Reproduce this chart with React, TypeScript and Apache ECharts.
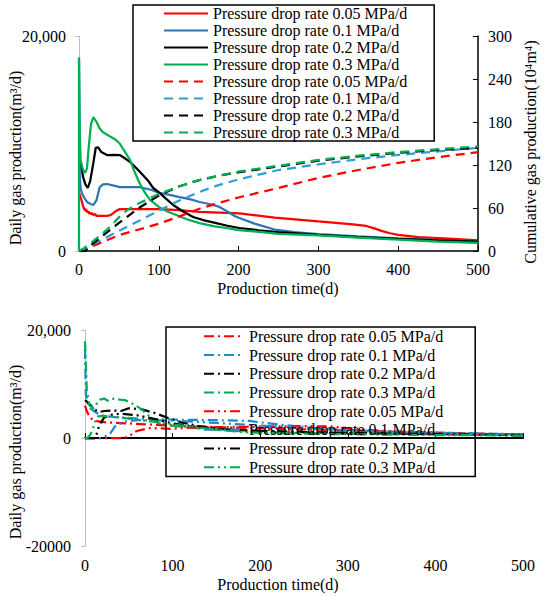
import React, { useEffect, useRef } from "react";
import * as echarts from "echarts";

const FONT = "Liberation Serif";

// ---------- categories / names ----------
const rates = ["0.05", "0.1", "0.2", "0.3"];
const seriesNames = rates.map((r) => `Pressure drop rate ${r} MPa/d`);

// ---------- tick labels ----------
const topLeftTicks: Record<string, string> = { "0": "0", "20000": "20,000" };
const bottomLeftTicks: Record<string, string> = { "-20000": "-20000", "0": "0", "20000": "20,000" };

// ---------- top chart: daily gas production (m3/d) ----------
const dailyRed = [[0,5400],[2,5000],[4,4500],[5,4200],[6,4000],[7,3800],[8,3950],[9,3650],[10,3800],[11,3550],[12,3700],[13,3450],[14,3600],[15,3400],[16,3550],[18,3350],[20,3450],[22,3260],[28,3270],[35,3260],[40,3350],[43,3530],[47,3750],[51,3900],[75,3900],[101,3900],[125,3800],[151,3650],[176,3580],[201,3500],[245,3100],[300,2750],[340,2500],[360,2330],[370,2100],[380,1850],[390,1650],[400,1500],[425,1300],[450,1200],[475,1100],[500,1000]];
const dailyBlue = [[0,18000],[1,7000],[2,5800],[4,5300],[7,4900],[10,4560],[14,4400],[18,4280],[22,4740],[26,5950],[30,6200],[35,6230],[45,6050],[51,5950],[65,5950],[76,5950],[90,5700],[101,5400],[115,5200],[126,5020],[140,4800],[151,4560],[165,4350],[176,4100],[183,3800],[189,3530],[195,3250],[201,3070],[220,2550],[245,2000],[270,1750],[300,1580],[350,1350],[400,1170],[450,1020],[500,900]];
const dailyBlack = [[0,8500],[3,8000],[5,6900],[8,6200],[11,5860],[14,6500],[18,8200],[21,9600],[24,9650],[28,9200],[35,8930],[45,8950],[51,8930],[58,8600],[64,8280],[72,7700],[80,7070],[87,6500],[93,5860],[101,5400],[110,4800],[118,4280],[130,3700],[143,3160],[157,2850],[172,2600],[186,2350],[201,2140],[225,1930],[250,1750],[300,1500],[350,1300],[400,1130],[450,1000],[500,880]];
const dailyGreen = [[0,0],[0,17900],[1,11000],[2,8500],[4,7800],[6,7400],[8,7300],[10,7700],[12,9500],[15,11800],[18,12450],[22,12000],[26,11400],[30,11050],[38,10700],[45,10400],[51,10000],[57,9300],[64,8450],[70,7300],[76,6300],[82,5500],[89,4750],[100,4100],[110,3700],[122,3350],[135,2950],[151,2600],[170,2300],[185,2140],[200,1950],[250,1600],[300,1450],[350,1250],[400,1050],[450,880],[500,760]];

// ---------- top chart: cumulative gas production (10^4 m3) ----------
const cumRed = [[0,0],[10,3],[26,11],[50,22],[75,30],[100,38],[125,48],[151,59],[175,67],[201,75],[250,88],[300,102],[350,113],[400,123],[450,131],[500,138]];
const cumBlue = [[0,0],[8,3],[22,12],[50,28],[75,42],[100,56],[125,70],[150,82],[175,92],[200,100],[250,113],[300,121],[350,128],[400,134],[450,139],[500,144]];
const cumBlack = [[0,0],[8,0],[14,7],[25,17],[35,26],[51,40],[75,60],[101,78],[125,90],[151,99],[175,105],[201,110],[250,118],[300,126],[350,132],[400,137],[450,141],[500,144]];
const cumGreen = [[0,0],[5,3],[17,13],[28,23],[39,34],[50,47],[60,57],[76,67],[101,80],[125,90],[151,99],[175,105],[201,111],[250,119],[300,127],[350,133],[400,138],[450,142],[500,146]];

// ---------- bottom chart: daily gas production, dash-dot ----------
const ddRed = [[0,6000],[2,5000],[5,4000],[8,3500],[12,3200],[18,3000],[25,2900],[35,2800],[50,2700],[75,2500],[100,2300],[150,2000],[200,1800],[250,1600],[300,1400],[350,1200],[400,1000],[450,800],[500,600]];
const ddBlue = [[0,16500],[1,8000],[3,6500],[6,5500],[10,5000],[15,4500],[21,4100],[40,3800],[60,3600],[100,3400],[150,3300],[188,3150],[220,2500],[260,1900],[300,1500],[350,1200],[400,1000],[450,800],[500,700]];
const ddBlack = [[0,7000],[4,6500],[8,5800],[12,5200],[16,4800],[22,5000],[30,5100],[41,5000],[50,5500],[64,5350],[80,4600],[95,3700],[110,2900],[130,2200],[160,1600],[200,1300],[250,1100],[300,950],[400,750],[500,550]];
const ddGreen = [[0,17900],[2,9000],[5,6000],[10,5500],[14,6500],[17,7100],[22,7300],[26,6900],[30,7300],[40,7100],[46,7000],[55,6300],[64,5400],[73,4100],[83,2800],[95,2400],[103,2200],[130,1800],[160,1400],[200,1100],[250,900],[300,800],[400,650],[500,500]];

// ---------- bottom chart: daily gas production, dash-dot-dot ----------
const dddRed = [[0,0],[20,0],[45,0],[51,400],[59,1300],[74,1850],[97,1700],[120,1900],[150,2000],[200,2100],[250,2200],[280,2150],[320,1500],[360,1100],[400,800],[450,700],[500,700]];
const dddBlue = [[0,0],[5,0],[17,0],[22,200],[29,900],[35,2300],[45,3000],[60,3300],[100,3200],[150,2800],[200,2300],[250,1800],[300,1400],[350,1150],[400,950],[450,800],[500,650]];
const dddBlack = [[0,0],[12,0],[15,1700],[18,2800],[22,3800],[30,4300],[40,4500],[60,4200],[80,3500],[100,2700],[130,2000],[160,1600],[200,1300],[250,1050],[300,900],[400,700],[500,500]];
const dddGreen = [[0,0],[3,0],[6,600],[9,1700],[12,3200],[15,4000],[21,4100],[40,3800],[60,3400],[80,3000],[100,2500],[130,1900],[160,1400],[188,1000],[250,800],[300,700],[400,550],[500,450]];

const RED = "#FF0000";
const BLUE = "#2E75B6";
const LBLUE = "#2A9FDB";
const BBLUE = "#2288CC";
const BLACK = "#000000";
const GREEN = "#00B050";

const DASH = [9, 6];
const DASHDOT = [10, 4, 2, 4];
const DASHDOTDOT = [10, 4, 2, 4, 2, 4];

function mk(name: string, data: number[][], color: string, type: any, xi: number, yi: number) {
  return {
    type: "line",
    name,
    data,
    xAxisIndex: xi,
    yAxisIndex: yi,
    showSymbol: false,
    symbol: "none",
    silent: true,
    lineStyle: { color, width: 2.25, type },
    itemStyle: { color },
  };
}

export default function App() {
  const ref = useRef<HTMLDivElement>(null);
  useEffect(() => {
    document.body.style.margin = "0";
    const chart = echarts.init(ref.current!, null, { renderer: "svg" });
    const n = (i: number, tag: string) => seriesNames[i] + "#" + tag;
    const topNames = [0, 1, 2, 3].map((i) => n(i, "a")).concat([0, 1, 2, 3].map((i) => n(i, "b")));
    const botNames = [0, 1, 2, 3].map((i) => n(i, "c")).concat([0, 1, 2, 3].map((i) => n(i, "d")));
    const axisLabel = { color: "#000", fontSize: 16, fontFamily: FONT };
    const txt = (text: string, x: number, y: number, rot: number) => ({
      type: "text",
      x,
      y,
      rotation: rot,
      style: { text, fontSize: 16, fontFamily: FONT, fill: "#000", align: "center", verticalAlign: "middle" },
    });
    const legendCommon = {
      orient: "vertical",
      borderColor: "#000",
      borderWidth: 1.5,
      itemGap: 0,
      itemHeight: 14,
      formatter: (name: string) => name.replace(/#.*$/, ""),
      itemStyle: { opacity: 0 },
    };
    chart.setOption({
      animation: false,
      grid: [
        { left: 79, top: 36, width: 399, height: 215 },
        { left: 85, top: 330, width: 438, height: 216 },
      ],
      legend: [
        {
          ...legendCommon,
          data: topNames,
          left: 133,
          top: 5,
          padding: [0, 27, 0, 30],
          itemWidth: 44,
          textStyle: { fontSize: 16, lineHeight: 17, fontFamily: FONT, color: "#000" },
        },
        {
          ...legendCommon,
          data: botNames,
          left: 166,
          top: 327,
          padding: [0, 32, 0, 37],
          itemWidth: 40,
          textStyle: { fontSize: 16, lineHeight: 18.7, fontFamily: FONT, color: "#000" },
        },
      ],
      xAxis: [
        {
          type: "value",
          gridIndex: 0,
          min: 0,
          max: 500,
          interval: 100,
          splitLine: { show: false },
          axisLine: { show: true, lineStyle: { color: "#000", width: 1.5 } },
          axisTick: { show: true, inside: true, length: 5, lineStyle: { color: "#000" } },
          axisLabel: { ...axisLabel, margin: 10 },
        },
        {
          type: "value",
          gridIndex: 1,
          min: 0,
          max: 500,
          interval: 100,
          splitLine: { show: false },
          axisLine: { show: true, onZero: true, lineStyle: { color: "#000", width: 2 } },
          axisTick: { show: true, inside: true, length: 5, lineStyle: { color: "#000" } },
          axisLabel: { ...axisLabel, margin: 11 },
        },
      ],
      yAxis: [
        {
          type: "value",
          gridIndex: 0,
          min: 0,
          max: 20000,
          interval: 20000,
          splitLine: { show: false },
          axisLine: { show: true, onZero: false, lineStyle: { color: "#BFBFBF", width: 1 } },
          axisTick: { show: true, length: 4, lineStyle: { color: "#BFBFBF" } },
          axisLabel: { ...axisLabel, margin: 13, formatter: (v: number) => topLeftTicks[String(v)] ?? String(v) },
        },
        {
          type: "value",
          gridIndex: 0,
          position: "right",
          min: 0,
          max: 300,
          interval: 60,
          splitLine: { show: false },
          axisLine: { show: true, onZero: false, lineStyle: { color: "#000", width: 1.5 } },
          axisTick: { show: true, inside: true, length: 5, lineStyle: { color: "#000" } },
          axisLabel: { ...axisLabel, margin: 10 },
        },
        {
          type: "value",
          gridIndex: 1,
          min: -20000,
          max: 20000,
          interval: 20000,
          splitLine: { show: false },
          axisLine: { show: true, onZero: false, lineStyle: { color: "#BFBFBF", width: 1 } },
          axisTick: { show: true, length: 4, lineStyle: { color: "#BFBFBF" } },
          axisLabel: { ...axisLabel, margin: 14, formatter: (v: number) => bottomLeftTicks[String(v)] ?? String(v) },
        },
      ],
      graphic: [
        txt("Daily gas production(m³/d)", 15, 158, Math.PI / 2),
        txt("Cumulative gas production(10⁴m⁴)", 530, 152, Math.PI / 2),
        txt("Production time(d)", 278, 288, 0),
        txt("Daily gas production(m³/d)", 15, 452, Math.PI / 2),
        txt("Production time(d)", 278, 584, 0),
      ],
      series: [
        mk(topNames[0], dailyRed, RED, "solid", 0, 0),
        mk(topNames[1], dailyBlue, BLUE, "solid", 0, 0),
        mk(topNames[2], dailyBlack, BLACK, "solid", 0, 0),
        mk(topNames[3], dailyGreen, GREEN, "solid", 0, 0),
        mk(topNames[4], cumRed, RED, DASH, 0, 1),
        mk(topNames[5], cumBlue, LBLUE, DASH, 0, 1),
        mk(topNames[6], cumBlack, BLACK, DASH, 0, 1),
        mk(topNames[7], cumGreen, GREEN, DASH, 0, 1),
        mk(botNames[0], ddRed, RED, DASHDOT, 1, 2),
        mk(botNames[1], ddBlue, BBLUE, DASHDOT, 1, 2),
        mk(botNames[2], ddBlack, BLACK, DASHDOT, 1, 2),
        mk(botNames[3], ddGreen, GREEN, DASHDOT, 1, 2),
        mk(botNames[4], dddRed, RED, DASHDOTDOT, 1, 2),
        mk(botNames[5], dddBlue, BBLUE, DASHDOTDOT, 1, 2),
        mk(botNames[6], dddBlack, BLACK, DASHDOTDOT, 1, 2),
        mk(botNames[7], dddGreen, GREEN, DASHDOTDOT, 1, 2),
      ],
    });
    return () => chart.dispose();
  }, []);
  return <div ref={ref} style={{ width: 550, height: 597 }} />;
}
